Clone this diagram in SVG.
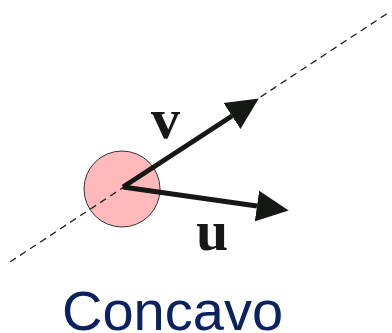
<svg xmlns="http://www.w3.org/2000/svg" width="392" height="333" viewBox="0 0 392 333">
<style>
.vec{stroke:#161816;stroke-width:5;fill:none;marker-end:url(#head)}
.lbl{font-family:"Liberation Serif",serif;font-weight:bold;font-size:58px;fill:#161816}
.title{font-family:"Liberation Sans",Arial,sans-serif;font-size:56px;fill:#0a2360}
</style>
<defs>
<marker id="head" markerUnits="userSpaceOnUse" markerWidth="32" markerHeight="32" viewBox="0 0 31 30" refX="0" refY="15" orient="auto">
<path d="M0,0 L31,15 L0,30 Z" fill="#161816"/>
</marker>
</defs>
<rect width="392" height="333" fill="#fff"/>
<g id="point">
<circle cx="122" cy="189" r="38" fill="#ffb9ba" stroke="#333" stroke-width="1"/>
</g>
<g id="connectors">
<line id="axis" x1="10" y1="262" x2="388" y2="13" stroke="#222" stroke-width="1.3" stroke-dasharray="7,5"/>
<line id="v-vec" class="vec" x1="123" y1="187" x2="232" y2="116"/>
<line id="u-vec" class="vec" x1="123" y1="187" x2="257" y2="206"/>
</g>
<g id="label-v"><text class="lbl" x="151" y="138">v</text></g>
<g id="label-u"><text class="lbl" x="196" y="250">u</text></g>
<g id="title"><text class="title" x="62" y="330">Concavo</text></g>
</svg>
